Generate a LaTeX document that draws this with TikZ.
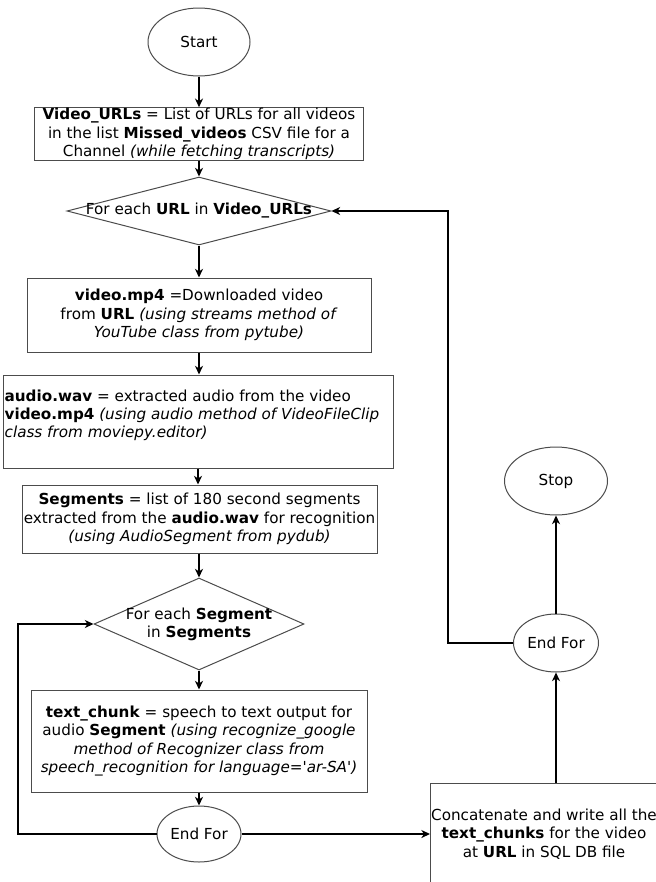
\documentclass[tikz,border=0pt]{standalone}
\usepackage{fontspec}
\setmainfont{DejaVu Sans}
\usetikzlibrary{shapes.geometric,arrows.meta}

\begin{document}
\begin{tikzpicture}[x=0.75pt,y=-0.75pt,
	font=\fontsize{11.4}{13.7}\selectfont,
	box/.style={draw=black!70,line width=0.75pt,rectangle,align=center,inner sep=0.5pt},
	oval/.style={draw=black!70,line width=0.75pt,ellipse,inner sep=0pt},
	choice/.style={draw=black!70,line width=0.75pt,diamond,align=center,inner sep=0pt},
	flow/.style={line width=1.1pt,-{Stealth[length=6.5pt,width=6pt,inset=2pt]}}]
	% 固定画布大小,单位为像素
	\useasboundingbox (0,0) rectangle (656,882);
	\clip (0,0) rectangle (656,882);
	\fill[white] (0,0) rectangle (656,882);
	
	% 左边一列:开始、取网址、外层循环
	\node[oval,minimum width=76.5pt,minimum height=51pt] (start) at (199,42) {Start};
	\node[box,minimum width=246.75pt,minimum height=39pt] (urls) at (199,134) {\textbf{Video\_URLs} = List of URLs for all videos\\ in the list \textbf{Missed\_videos} CSV file for a\\ Channel \textit{(while fetching transcripts)}};
	\node[choice,minimum width=198pt,minimum height=51pt] (loop1) at (199,211) {\makebox[0pt]{For each \textbf{URL} in \textbf{Video\_URLs}}};
	
	% 下载视频,提取音频,切分片段
	\node[box,minimum width=258pt,minimum height=55.5pt] (video) at (199,315) {\textbf{video.mp4} =Downloaded video\\ from \textbf{URL} \textit{(using streams method of}\\ \textit{YouTube class from pytube)}};
	\node[box,inner sep=0pt,minimum width=292.5pt,minimum height=69.75pt] (audio) at (198,421.5) {\parbox[c][69pt][t]{290pt}{\raggedright\vspace*{10.5pt}\textbf{audio.wav} = extracted audio from the video\\ \textbf{video.mp4} \textit{(using audio method of VideoFileClip}\\ \textit{class from moviepy.editor)}}};
	\node[box,minimum width=266.25pt,minimum height=51pt] (seg) at (199.5,519) {\textbf{Segments} = list of 180 second segments\\ extracted from the \textbf{audio.wav} for recognition\\ \textit{(using AudioSegment from pydub)}};
	
	% 内层循环:逐段识别
	\node[choice,minimum width=157.5pt,minimum height=69pt] (loop2) at (199,624) {\makebox[0pt]{For each \textbf{Segment}}\\ \makebox[0pt]{in \textbf{Segments}}};
	\node[box,minimum width=252pt,minimum height=76.5pt] (chunk) at (199,741) {\textbf{text\_chunk} = speech to text output for\\ audio \textbf{Segment} \textit{(using recognize\_google}\\ \textit{method of Recognizer class from}\\ \textit{speech\_recognition for language=\textquotesingle ar-SA\textquotesingle)}};
	\node[oval,minimum width=63pt,minimum height=42pt] (endfor1) at (199,834) {End For};
	
	% 右边一列:写入数据库,结束
	\node[box,minimum width=169.5pt,minimum height=76.5pt] (concat) at (544,834) {Concatenate and write all the\\ \textbf{text\_chunks} for the video\\ at \textbf{URL} in SQL DB file};
	\node[oval,minimum width=63.75pt,minimum height=43.5pt] (endfor2) at (556,643) {End For};
	\node[oval,minimum width=77.25pt,minimum height=51pt] (stop) at (556,481) {Stop};
	
	% 拐点
	\coordinate (back1) at (18,834);
	\coordinate (back2) at (448,643);
	
	% 连线
	\draw[flow] (start) -- (urls);
	\draw[flow] (urls) -- (loop1);
	\draw[flow] (loop1) -- (video);
	\draw[flow] (video) -- (video.south |- audio.north);
	\draw[flow] (audio.north |- audio.south) -- (audio.north |- seg.north);
	\draw[flow] (seg.south -| loop2.north) -- (loop2);
	\draw[flow] (loop2) -- (chunk);
	\draw[flow] (chunk) -- (endfor1);
	\draw[flow] (endfor1.west) -- (back1) |- (loop2.west); % 回到内层循环
	\draw[flow] (endfor1.east) -- (concat.west);
	\draw[flow] (endfor2.south |- concat.north) -- (endfor2.south);
	\draw[flow] (endfor2) -- (stop);
	\draw[flow] (endfor2.west) -- (back2) |- (loop1.east); % 回到外层循环
\end{tikzpicture}
\end{document}
